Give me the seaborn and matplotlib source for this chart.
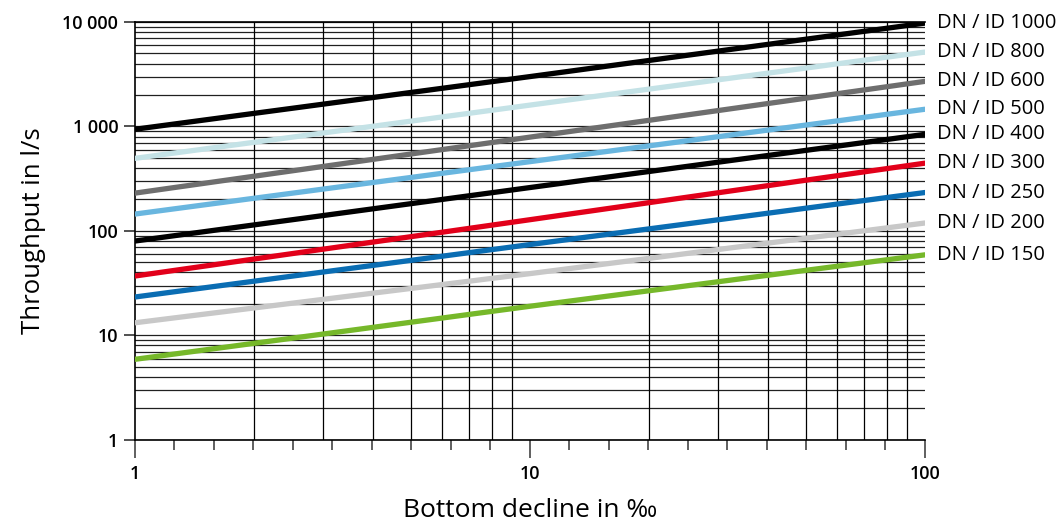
import pandas as pd
import matplotlib.pyplot as plt
import matplotlib.ticker as mticker
import seaborn as sns

# bottom decline in per mille, read at 1, 10 and 100
decline = [1, 10, 100]

series_names = ["DN / ID 1000", "DN / ID 800", "DN / ID 600", "DN / ID 500",
                "DN / ID 400", "DN / ID 300", "DN / ID 250", "DN / ID 200",
                "DN / ID 150"]

dn1000 = [940, 3000, 9750]
dn800 = [495, 1600, 5150]
dn600 = [230, 790, 2700]
dn500 = [145, 460, 1460]
dn400 = [80, 260, 840]
dn300 = [37, 128, 445]
dn250 = [23.3, 74, 233]
dn200 = [13.2, 39, 119]
dn150 = [5.9, 19, 59]

flows = [dn1000, dn800, dn600, dn500, dn400, dn300, dn250, dn200, dn150]

colors = ["#000000", "#c4e2e6", "#6e6e6e", "#69b6df", "#000000",
          "#e2001a", "#0a6db3", "#c8c8c8", "#76b82a"]

frames = []
for name, q in zip(series_names, flows):
    frames.append(pd.DataFrame({"decline": decline, "flow": q, "series": name}))
df = pd.concat(frames, ignore_index=True)

sns.set_style("white")
plt.rcParams["font.family"] = ["Open Sans", "DejaVu Sans"]
plt.rcParams["text.color"] = "black"
plt.rcParams["axes.labelcolor"] = "black"
plt.rcParams["xtick.color"] = "black"
plt.rcParams["ytick.color"] = "black"

fig = plt.figure(figsize=(10.63, 5.23), dpi=100)
ax = fig.add_axes([0.127, 0.159, 0.743, 0.799])

ax.set_xscale("log")
ax.set_yscale("log")
ax.set_xlim(1, 100)
ax.set_ylim(1, 10000)

# vertical grid at 2..9 of each decade (ticks themselves follow R10 steps)
for dec in [1, 10]:
    for m in range(2, 10):
        ax.axvline(dec * m, color="black", lw=0.9, zorder=1)

ax.yaxis.set_minor_locator(mticker.LogLocator(base=10, subs=range(2, 10)))
ax.grid(True, which="both", axis="y", color="#202020", lw=0.9, zorder=1)
ax.tick_params(axis="y", which="minor", length=0)

sns.lineplot(data=df, x="decline", y="flow", hue="series",
             palette=dict(zip(series_names, colors)), hue_order=series_names,
             linewidth=3.8, legend=False, sort=False, ax=ax, zorder=3)

for name, q in zip(series_names, flows):
    ax.annotate(name, xy=(decline[-1], q[-1]), xytext=(9, 0),
                textcoords="offset points", va="center", ha="left",
                fontsize=14.5, color="black", annotation_clip=False)

ax.set_xticks([1, 10, 100])
ax.set_xticklabels(["1", "10", "100"])
ax.set_xticks([10 ** (k / 10) for k in range(1, 20) if k % 10], minor=True)
ax.xaxis.set_minor_formatter(mticker.NullFormatter())
ax.set_yticks([1, 10, 100, 1000, 10000])
ax.set_yticklabels(["1", "10", "100", "1 000", "10 000"])

ax.tick_params(axis="x", which="major", direction="out", length=13, width=1.2,
               color="#444444", labelsize=13, pad=5, bottom=True)
ax.tick_params(axis="x", which="minor", direction="out", length=7, width=1.2,
               color="#444444", bottom=True)
ax.tick_params(axis="y", which="major", direction="out", length=8, width=1.2,
               color="#333333", labelsize=13, pad=4, left=True)
for lab in ax.get_xticklabels() + ax.get_yticklabels():
    lab.set_fontweight("semibold")

for side in ["left", "bottom", "top"]:
    ax.spines[side].set_color("black")
    ax.spines[side].set_linewidth(1.2)
ax.spines["right"].set_visible(False)

ax.set_xlabel("Bottom decline in ‰", fontsize=19, labelpad=11)
ax.set_ylabel("Throughput in l/s", fontsize=18.5, labelpad=12)

fig.savefig("out.png", dpi=100)
